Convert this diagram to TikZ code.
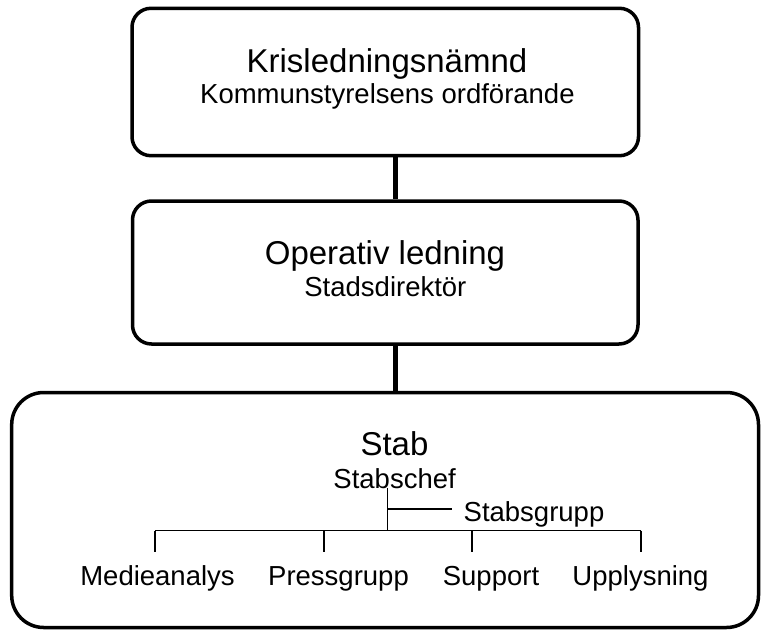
\documentclass[tikz,border=0pt]{standalone}
\usepackage{fontspec}
\setmainfont{Liberation Sans}
\begin{document}
\begin{tikzpicture}[x=1pt,y=-1pt,
  panel/.style={draw, line width=3.5pt, fill=white, inner sep=0pt},
  big/.style={inner sep=0pt, anchor=base, font=\fontsize{33}{36}\selectfont},
  small/.style={inner sep=0pt, anchor=base, font=\fontsize{27.5}{30}\selectfont},
  link/.style={line width=4.7pt},
  tree/.style={line width=1.4pt}]
\useasboundingbox (0,0) rectangle (761,630);

% the three levels of the organisation
\node[panel, rounded corners=19pt, minimum width=506.5pt, minimum height=147.4pt] (kris) at (385.25,82) {};
\node[panel, rounded corners=19pt, minimum width=505.5pt, minimum height=143pt] (oper) at (385.25,272.5) {};
\node[panel, rounded corners=32pt, minimum width=746.8pt, minimum height=235pt] (stab) at (385.1,510) {};

% thick links between the levels
\coordinate (spine) at (395.5,0);
\draw[link] (kris.south -| spine) -- (oper.north -| spine);
\draw[link] (oper.south -| spine) -- (stab.north -| spine);

% titles
\node[big]   (kt) at (387,72.7)   {Krisledningsnämnd};
\node[small] (ks) at (387.4,103)  {Kommunstyrelsens ordförande};
\node[big]   (ot) at (385,264.4)  {Operativ ledning};
\node[small] (os) at (385.4,296.5){Stadsdirektör};
\node[big]   (st) at (394.5,455.5){Stab};
\node[small] (sc) at (394.6,488.3){Stabschef};
\node[small] (sg) at (534,521.7)  {Stabsgrupp};

% staff groups
\node[small] (m1) at (157.5,585) {Medieanalys};
\node[small] (m2) at (338.5,585) {Pressgrupp};
\node[small] (m3) at (491,585)   {Support};
\node[small] (m4) at (640.5,585) {Upplysning};

% internal tree of the staff
\coordinate (top) at (387.7,488.3);
\coordinate (hub) at (387.7,530.5);
\coordinate (br)  at (387.7,509);
\coordinate (bre) at (451.7,509);
\coordinate (d1) at (155,530.5);
\coordinate (d2) at (324,530.5);
\coordinate (d3) at (472,530.5);
\coordinate (d4) at (641,530.5);
\draw[tree] (top) -- (hub);
\draw[tree] (br) -- (bre);
\draw[tree] (d1) -- (d4);
\foreach \d in {d1,d2,d3,d4} \draw[tree] (\d) -- ++(0,21.5);
\end{tikzpicture}
\end{document}
